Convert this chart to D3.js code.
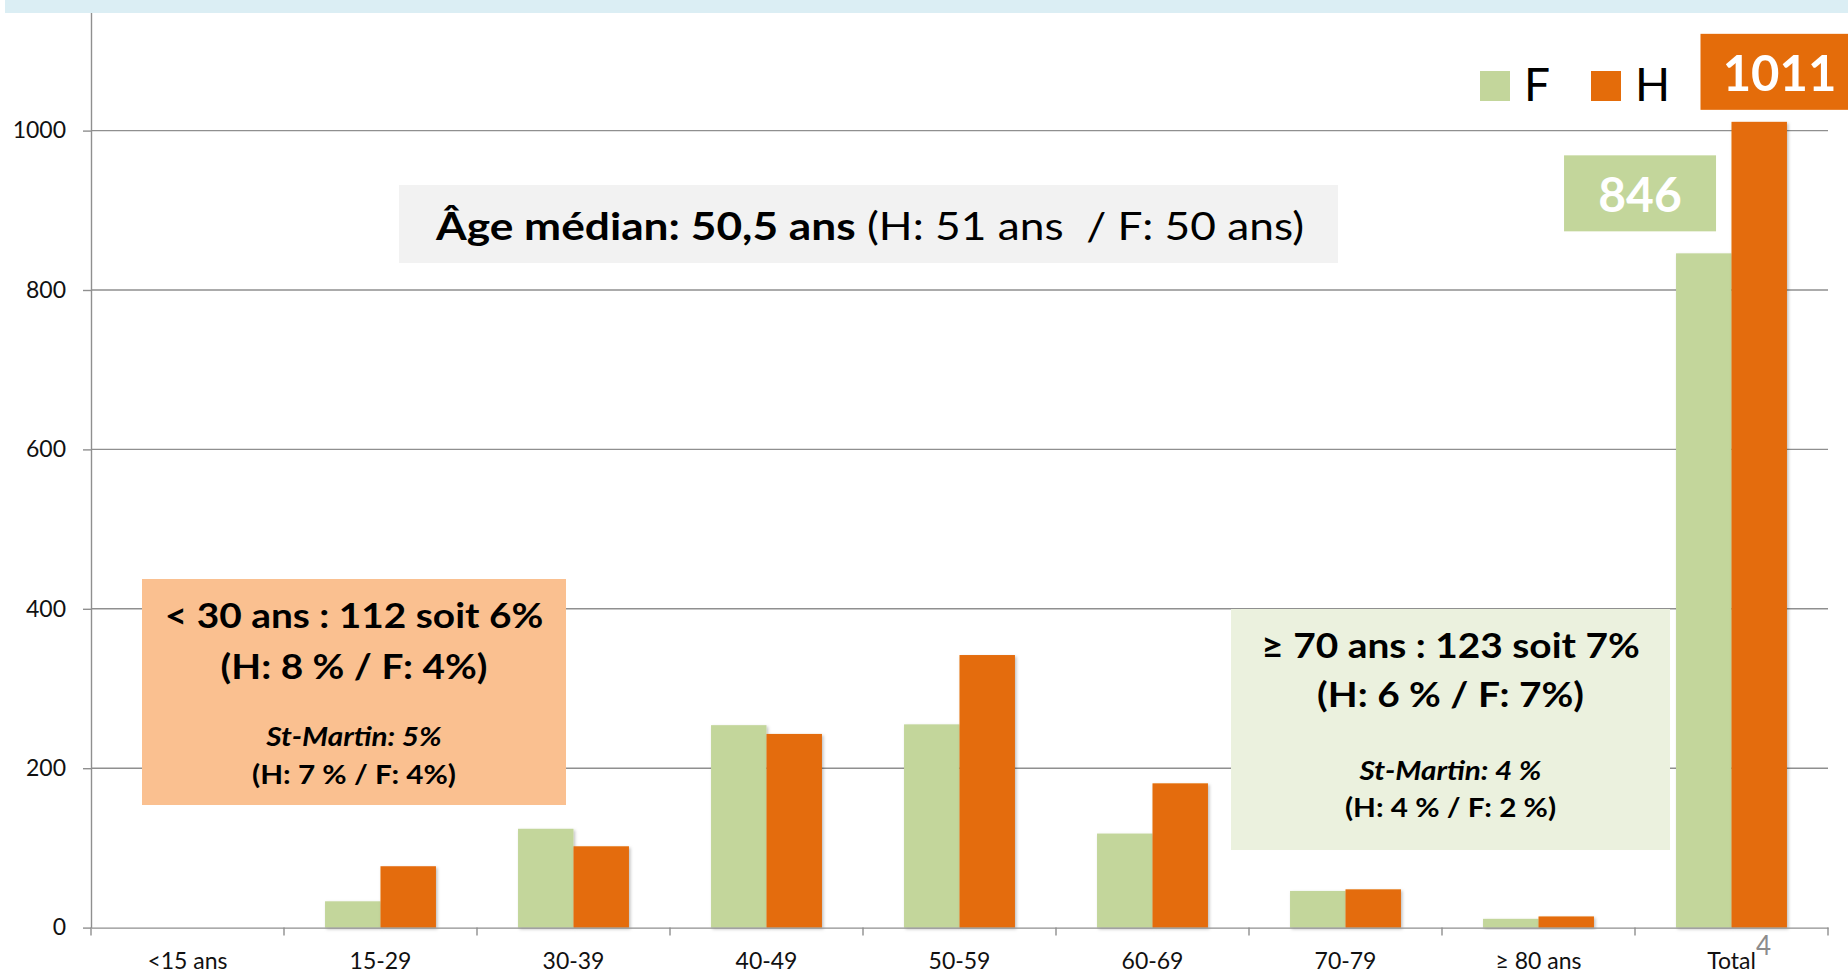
<!DOCTYPE html>
<meta charset="utf-8">
<style>
body { margin: 0; background: #fff; }
svg { display: block; font-family: Lato, "Open Sans", sans-serif; }
.grid line { stroke: #8f8f8f; stroke-width: 1.4; }
.axis path, .axis line { stroke: #8f8f8f; stroke-width: 1.4; }
.axis text { font-size: 23px; fill: #111; font-family: Lato, sans-serif; }
</style>
<body>
<script src="https://d3js.org/d3.v7.min.js"></script>
<script>

// data
var categories = ["<15 ans", "15-29", "30-39", "40-49", "50-59", "60-69", "70-79", "\u2265 80 ans", "Total"];
var valuesF = [0, 33, 124, 254, 255, 118, 46, 11, 846];
var valuesH = [0, 77, 102, 243, 342, 181, 48, 14, 1011];
var yTicks = [0, 200, 400, 600, 800, 1000];
var seriesNames = ["F", "H"];
var seriesColors = ["#c3d69b", "#e46c0a"];

var medianBold = "\u00c2ge m\u00e9dian: 50,5 ans";
var medianRest = " (H: 51 ans  / F: 50 ans)";
var youngLines = ["< 30 ans : 112 soit 6%", "(H: 8 % / F: 4%)", "St-Martin: 5%", "(H: 7 % / F: 4%)"];
var oldLines = ["\u2265 70 ans : 123 soit 7%", "(H: 6 % / F: 7%)", "St-Martin: 4 %", "(H: 4 % / F: 2 %)"];

var w = 1848, h = 974;

var svg = d3.select("body").append("svg")
    .attr("width", w)
    .attr("height", h);

var defs = svg.append("defs");
defs.append("filter").attr("id", "shadow")
    .attr("x", "-10%").attr("y", "-10%").attr("width", "130%").attr("height", "130%")
  .append("feDropShadow")
    .attr("dx", 1.5).attr("dy", 1.5).attr("stdDeviation", 1.5)
    .attr("flood-color", "#000").attr("flood-opacity", 0.25);

// scales
var x = d3.scaleBand().domain(categories).range([91, 1828]);
var xs = d3.scaleBand().domain(seriesNames).range([0, x.bandwidth()]).paddingOuter(0.74);
var y = d3.scaleLinear().domain([0, 1200]).range([927.6, -28.8]);
var color = d3.scaleOrdinal().domain(seriesNames).range(seriesColors);

var rows = categories.map(function(c, i) {
    return {cat: c, F: valuesF[i], H: valuesH[i]};
});

// gridlines
svg.append("g").attr("class", "grid")
  .selectAll("line")
  .data(yTicks.slice(1))
  .join("line")
    .attr("x1", x.range()[0])
    .attr("x2", x.range()[1])
    .attr("y1", function(d) { return y(d); })
    .attr("y2", function(d) { return y(d); });

// bars
var groups = svg.append("g")
  .selectAll("g")
  .data(rows)
  .join("g")
    .attr("transform", function(d) { return "translate(" + x(d.cat) + ",0)"; });

groups.selectAll("rect")
  .data(function(d) { return seriesNames.map(function(k) { return {key: k, value: d[k]}; }); })
  .join("rect")
    .attr("x", function(d) { return xs(d.key); })
    .attr("y", function(d) { return y(d.value); })
    .attr("width", xs.bandwidth())
    .attr("height", function(d) { return y(0) - y(d.value); })
    .attr("fill", function(d) { return color(d.key); })
    .attr("filter", function(d) { return d.value > 0 ? "url(#shadow)" : null; });

// axes
var yAxis = d3.axisLeft(y).tickValues(yTicks).tickFormat(d3.format("d"))
    .tickSize(8).tickSizeOuter(0).tickPadding(17);
svg.append("g").attr("class", "axis")
    .attr("transform", "translate(" + x.range()[0] + ",0)")
    .call(yAxis);

var xAxis = d3.axisBottom(x).tickSize(0).tickSizeOuter(0).tickPadding(25);
var gx = svg.append("g").attr("class", "axis")
    .attr("transform", "translate(0," + y(0) + ")")
    .call(xAxis);

// category separator ticks
var bounds = categories.map(function(c) { return x(c); }).concat([x.range()[1]]);
gx.selectAll(".sep")
  .data(bounds)
  .join("line")
    .attr("class", "sep")
    .attr("x1", function(d) { return d; })
    .attr("x2", function(d) { return d; })
    .attr("y1", 0)
    .attr("y2", 8);

// median box (slide text is a bit stretched horizontally)
svg.append("rect")
    .attr("x", 399).attr("y", 185).attr("width", 939).attr("height", 78)
    .attr("fill", "#f2f2f2");
var med = svg.append("text")
    .attr("transform", "translate(870,240) scale(1.15,1)")
    .attr("text-anchor", "middle")
    .attr("font-size", 38.5)
    .attr("fill", "#000");
med.append("tspan").attr("font-weight", 700).text(medianBold);
med.append("tspan").attr("font-weight", 400).style("white-space", "pre").text(medianRest);

// annotation boxes
function noteBox(x0, y0, bw, bh, fill, lines, baselines) {
    var g = svg.append("g");
    g.append("rect")
        .attr("x", x0).attr("y", y0).attr("width", bw).attr("height", bh)
        .attr("fill", fill);
    var sizes = [35, 35, 27, 27];
    var stretch = [1.11, 1.11, 1.1, 1.1];
    g.selectAll("text")
      .data(lines)
      .join("text")
        .attr("transform", function(d, i) {
            return "translate(" + (x0 + bw / 2) + "," + baselines[i] + ") scale(" + stretch[i] + ",1)";
        })
        .attr("text-anchor", "middle")
        .attr("font-weight", 700)
        .attr("font-style", function(d, i) { return i === 2 ? "italic" : "normal"; })
        .attr("font-size", function(d, i) { return sizes[i]; })
        .attr("fill", "#000")
        .style("white-space", "pre")
        .text(function(d) { return d; });
}
noteBox(142, 579, 424, 226, "#fac090", youngLines, [628, 679, 746, 784]);
noteBox(1231, 609, 439, 241, "#ebf1de", oldLines, [658, 707, 780, 817]);

// total labels
var tot = rows[rows.length - 1];
var hx = x(tot.cat) + xs("H"), hy = y(tot.H);
var fx = x(tot.cat) + xs("F"), fy = y(tot.F);

svg.append("rect")
    .attr("x", hx - 31).attr("y", hy - 88).attr("width", 160).attr("height", 76)
    .attr("fill", color("H"));
svg.append("text")
    .attr("x", hx + 48).attr("y", hy - 31)
    .attr("text-anchor", "middle")
    .attr("font-size", 49).attr("font-weight", 700)
    .attr("fill", "#fff")
    .text(tot.H);

svg.append("rect")
    .attr("x", fx - 112).attr("y", fy - 98).attr("width", 152).attr("height", 76)
    .attr("fill", color("F"));
svg.append("text")
    .attr("x", fx - 36).attr("y", fy - 41.5)
    .attr("text-anchor", "middle")
    .attr("font-size", 48).attr("font-weight", 700)
    .attr("fill", "#fff")
    .text(tot.F);

// legend
var legend = svg.append("g")
  .selectAll("g")
  .data(seriesNames)
  .join("g")
    .attr("transform", function(d, i) { return "translate(" + (1480 + i * 111) + ",71)"; });
legend.append("rect")
    .attr("width", 30).attr("height", 30)
    .attr("fill", function(d) { return color(d); });
legend.append("text")
    .attr("x", 44).attr("y", 30)
    .attr("font-size", 46)
    .attr("fill", "#000")
    .text(function(d) { return d; });

// top band of the slide
svg.append("rect")
    .attr("x", 5).attr("y", 0).attr("width", w - 5).attr("height", 13)
    .attr("fill", "#dbeef4");

// slide number
svg.append("text")
    .attr("x", 1756).attr("y", 955)
    .attr("font-size", 26)
    .attr("fill", "#8c8c8c")
    .text("4");

</script>
</body>
